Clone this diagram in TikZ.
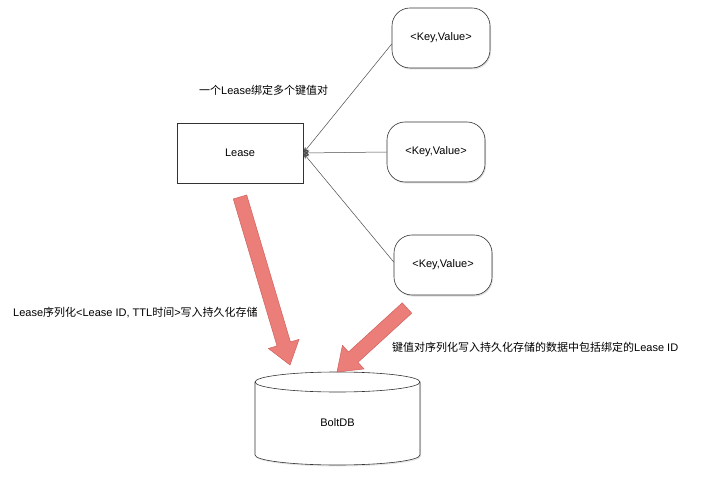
\documentclass[tikz,border=0pt]{standalone}
\usepackage{fontspec}
\setmainfont{Liberation Sans}
\newfontfamily\cjk{Noto Sans CJK SC}
\newcommand{\zh}[1]{{\cjk #1}}
\usetikzlibrary{calc,arrows.meta,shadows}
\definecolor{fatfill}{HTML}{EC7E7A}
\definecolor{fatdraw}{HTML}{D0605C}
\tikzset{
  kvbox/.style={draw=black!80, fill=white, rounded corners=18pt, minimum width=98pt, minimum height=60pt, line width=0.6pt,
     drop shadow={opacity=0.25, shadow xshift=1pt, shadow yshift=-1.5pt}, font=\fontsize{11}{13}\selectfont},
  leasebox/.style={draw=black!80, fill=white, minimum width=126pt, minimum height=60pt, line width=0.6pt,
     drop shadow={opacity=0.25, shadow xshift=1pt, shadow yshift=-1.5pt}, font=\fontsize{11}{13}\selectfont},
  link/.style={draw=black!70, line width=0.5pt, -{Stealth[length=6pt,width=5pt]}},
  fat/.style={fill=fatfill, draw=fatdraw, line width=0.5pt},
  lbl/.style={font=\fontsize{11}{13}\selectfont, inner sep=0pt},
}
\begin{document}
\begin{tikzpicture}[x=1pt,y=-1pt]
\useasboundingbox (0,0) rectangle (717,478);
\fill[white] (0,0) rectangle (717,478);

% nodes
\node[leasebox] (lease) at (240,153) {Lease};
\node[kvbox] (kv1) at (441,38) {<Key,Value>};
\node[kvbox] (kv2) at (436,152) {<Key,Value>};
\node[kvbox] (kv3) at (443,265) {<Key,Value>};

% connectors
\coordinate (tip) at (lease.east);
\draw[link] (kv1.west) ++(0,6) coordinate (s1) -- (tip);
\draw[link] (kv2.west) -- (tip);
\draw[link] (kv3.west) ++(0,-3) coordinate (s3) -- (tip);

% cylinder
\draw[fill=white, draw=black!80, line width=0.6pt, drop shadow={opacity=0.2, shadow xshift=1pt, shadow yshift=-1.5pt}]
  (255,382) -- (255,455) arc[start angle=180, end angle=360, x radius=82.5, y radius=-10] -- (420,382)
  arc[start angle=0, end angle=180, x radius=82.5, y radius=-10] -- cycle;
\draw[draw=black!80, line width=0.6pt] (255,382) arc[start angle=180, end angle=360, x radius=82.5, y radius=-10];
\node[font=\fontsize{11}{13}\selectfont] (db) at (337.5,423) {BoltDB};

% fat arrows
\coordinate (a1s) at (240,197);
\coordinate (a1e) at (290,365);
\coordinate (a2s) at (407,308);
\coordinate (a2e) at (337,372);
\foreach \s/\e in {a1s/a1e, a2s/a2e}{
  \coordinate (h) at ($(\e)!22pt!(\s)$);
  \path[fat] ($(\s)!7pt!90:(\e)$) -- ($(h)!7pt!-90:(\s)$) -- ($(h)!16pt!-90:(\s)$) -- (\e)
     -- ($(h)!16pt!90:(\s)$) -- ($(h)!7pt!90:(\s)$) -- ($(\s)!7pt!-90:(\e)$) -- cycle;
}

% labels
\node[lbl, anchor=west] (t1) at (199,90) {\zh{一个}Lease\zh{绑定多个键值对}};
\node[lbl, anchor=west] (t2) at (13,313) {Lease\zh{序列化}<Lease ID, TTL\zh{时间}>\zh{写入持久化存储}};
\node[lbl, anchor=west] (t3) at (392,347) {\zh{键值对序列化写入持久化存储的数据中包括绑定的}Lease ID};
\end{tikzpicture}
\end{document}
